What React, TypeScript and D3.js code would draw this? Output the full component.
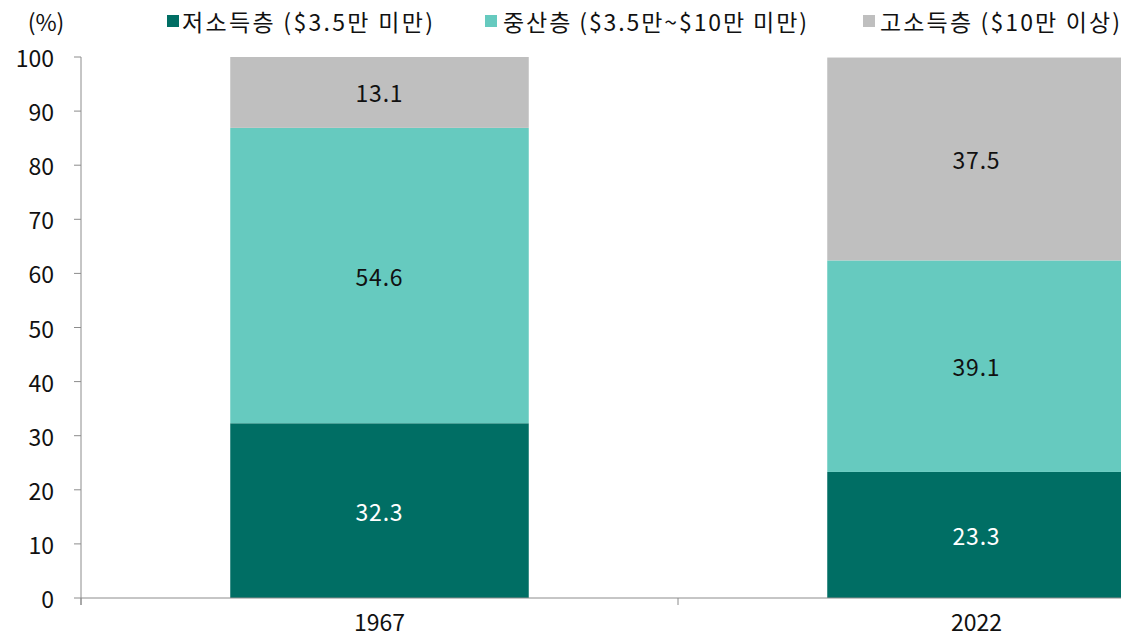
import React from "react";
import * as d3 from "d3";

const years = ["1967", "2022"];
const seriesNames = ["저소득층 ($3.5만 미만)", "중산층 ($3.5만~$10만 미만)", "고소득층 ($10만 이상)"];
const lowIncome = [32.3, 23.3];
const middleIncome = [54.6, 39.1];
const highIncome = [13.1, 37.5];
const yTicks = [0, 10, 20, 30, 40, 50, 60, 70, 80, 90, 100];
const colors = ["#006e64", "#66cabf", "#bfbfbf"];
const labelColors = ["#ffffff", "#111111", "#111111"];

const W = 1121;
const H = 637;
const FONT = "'Noto Sans CJK KR', 'Noto Sans', sans-serif";

export default function App() {
  const x = d3.scaleBand<string>().domain(years).range([81, 1275]).paddingInner(0).paddingOuter(0);
  const y = d3.scaleLinear().domain([0, 100]).range([598, 57]);
  const rows = years.map((yr, i) => ({ year: yr, low: lowIncome[i], mid: middleIncome[i], high: highIncome[i] }));
  const stack = d3.stack<any>().keys(["low", "mid", "high"]);
  const layers = stack(rows);
  const bw = x.bandwidth() * 0.5;
  const legendX = [167, 485, 863];
  const legendTextX = [182, 503, 880];
  const legendLen = [251, 304, 240];

  return (
    <svg width={W} height={H} style={{ position: "absolute", left: 0, top: 0 }} fontFamily={FONT}>
      <rect width={W} height={H} fill="#ffffff" />
      {layers.map((layer, li) =>
        layer.map((d, i) => {
          const cx = (x(years[i]) as number) + x.bandwidth() / 2;
          const y0 = y(d[0]);
          const y1 = y(d[1]);
          const val = [lowIncome, middleIncome, highIncome][li][i];
          return (
            <g key={`${li}-${i}`}>
              <rect x={cx - bw / 2} y={y1} width={bw} height={y0 - y1} fill={colors[li]} />
              <text x={cx} y={(y0 + y1) / 2} textAnchor="middle" dominantBaseline="central" fontSize={23} letterSpacing={0.8} fill={labelColors[li]}>
                {val.toFixed(1)}
              </text>
            </g>
          );
        })
      )}
      {/* y axis */}
      <line x1={81} x2={81} y1={57} y2={605} stroke="#8c8c8c" strokeWidth={1} />
      {yTicks.map((t) => (
        <g key={t}>
          <line x1={74} x2={81} y1={y(t)} y2={y(t)} stroke="#8c8c8c" />
          <text x={54} y={y(t)} textAnchor="end" dominantBaseline="central" fontSize={23} fill="#111">
            {t}
          </text>
        </g>
      ))}
      {/* x axis */}
      <line x1={81} x2={W} y1={598} y2={598} stroke="#8c8c8c" />
      {[81, 678].map((tx) => (
        <line key={tx} x1={tx} x2={tx} y1={598} y2={605} stroke="#8c8c8c" />
      ))}
      {years.map((yr) => (
        <text key={yr} x={(x(yr) as number) + x.bandwidth() / 2} y={621} textAnchor="middle" dominantBaseline="central" fontSize={23} fill="#111">
          {yr}
        </text>
      ))}
      <text x={46} y={21} textAnchor="middle" dominantBaseline="central" fontSize={23} fill="#111">(%)</text>
      {seriesNames.map((s, i) => (
        <g key={s}>
          <rect x={legendX[i]} y={15} width={12} height={12} fill={colors[i]} />
          <text x={legendTextX[i]} y={21} dominantBaseline="central" fontSize={23} fill="#111" textLength={legendLen[i]} lengthAdjust="spacing">
            {s}
          </text>
        </g>
      ))}
    </svg>
  );
}
